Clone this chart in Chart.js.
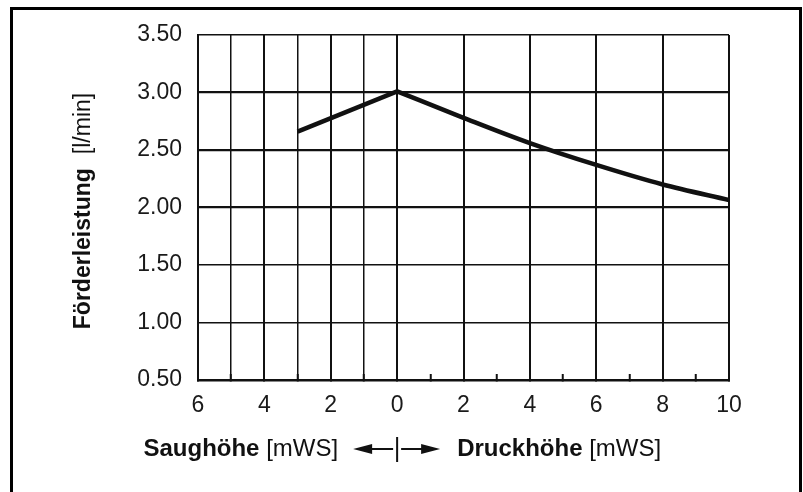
<!DOCTYPE html>
<html>
<head>
<meta charset="utf-8">
<script src="https://cdn.jsdelivr.net/npm/chart.js@4.4.1/dist/chart.umd.min.js"></script>
<style>
  html, body { margin: 0; padding: 0; background: #fff; }
  body { width: 803px; height: 492px; position: relative; overflow: hidden; }
  #chart { position: absolute; left: 0; top: 0; }
  #frame {
    position: absolute; left: 10px; top: 7px; width: 792px; height: 500px;
    box-sizing: border-box; border: 3px solid #000; border-bottom: none;
    pointer-events: none;
  }
</style>
</head>
<body>
<canvas id="chart" width="803" height="492"></canvas>
<div id="frame"></div>
<script>
// Saughöhe (suction head, negative side) and Druckhöhe (pressure head)
const suctionHeads = [-3, 0];
const suctionFlow = [2.66, 3.01];
const pressureHeads = [0, 2, 4, 6, 8, 10];
const pressureFlow = [3.01, 2.78, 2.56, 2.37, 2.20, 2.065];

const yTicks = [0.5, 1.0, 1.5, 2.0, 2.5, 3.0, 3.5];
const FONT = '"Liberation Sans", Arial, sans-serif';

const toPoints = (xs, ys) => xs.map((x, i) => ({ x: x, y: ys[i] }));

// axis titles with mixed bold / regular text, plus the ←|→ marker
const axisTitles = {
  id: 'axisTitles',
  afterDraw(chart) {
    const ctx = chart.ctx;
    const area = chart.chartArea;
    const xs = chart.scales.x;
    ctx.save();
    ctx.fillStyle = '#111';
    ctx.textBaseline = 'middle';

    // y title
    let bold = 'bold 23px ' + FONT;
    let reg = '23px ' + FONT;
    ctx.font = bold;
    const w1 = ctx.measureText('Förderleistung').width;
    ctx.font = reg;
    const w2 = ctx.measureText('[l/min]').width;
    const gap = 14;
    const total = w1 + gap + w2;
    ctx.translate(84, 211);
    ctx.rotate(-Math.PI / 2);
    ctx.textAlign = 'left';
    ctx.font = bold;
    ctx.fillText('Förderleistung', -total / 2, 0);
    ctx.font = reg;
    ctx.fillText('[l/min]', -total / 2 + w1 + gap, 0);
    ctx.setTransform(1, 0, 0, 1, 0, 0);

    // x title
    bold = 'bold 24px ' + FONT;
    reg = '24px ' + FONT;
    const zx = xs.getPixelForValue(0);
    const ty = 449;
    ctx.font = reg;
    const m1 = ctx.measureText(' [mWS]').width;
    ctx.textAlign = 'right';
    ctx.fillText(' [mWS]', zx - 59, ty);
    ctx.font = bold;
    ctx.fillText('Saughöhe', zx - 59 - m1, ty);
    ctx.textAlign = 'left';
    const m2 = ctx.measureText('Druckhöhe').width;
    ctx.fillText('Druckhöhe', zx + 60, ty);
    ctx.font = reg;
    ctx.fillText(' [mWS]', zx + 60 + m2, ty);

    // arrows
    ctx.strokeStyle = '#111';
    ctx.lineWidth = 2;
    ctx.beginPath();
    ctx.moveTo(zx, ty - 12); ctx.lineTo(zx, ty + 13);
    ctx.moveTo(zx - 4, ty); ctx.lineTo(zx - 28, ty);
    ctx.moveTo(zx + 4, ty); ctx.lineTo(zx + 28, ty);
    ctx.stroke();
    ctx.beginPath();
    ctx.moveTo(zx - 44, ty); ctx.lineTo(zx - 25, ty - 5); ctx.lineTo(zx - 25, ty + 5); ctx.closePath();
    ctx.moveTo(zx + 43, ty); ctx.lineTo(zx + 24, ty - 5); ctx.lineTo(zx + 24, ty + 5); ctx.closePath();
    ctx.fill();
    ctx.restore();
  }
};

new Chart(document.getElementById('chart'), {
  type: 'line',
  data: {
    datasets: [
      {
        data: toPoints(suctionHeads, suctionFlow),
        borderColor: '#111', borderWidth: 4.5, pointRadius: 0, tension: 0,
        borderCapStyle: 'butt', borderJoinStyle: 'miter'
      },
      {
        data: toPoints(pressureHeads, pressureFlow),
        borderColor: '#111', borderWidth: 4.5, pointRadius: 0,
        cubicInterpolationMode: 'monotone', borderCapStyle: 'butt'
      }
    ]
  },
  options: {
    responsive: false,
    animation: false,
    devicePixelRatio: 1,
    layout: { padding: { top: 35, right: 74, left: 0, bottom: 0 } },
    plugins: { legend: { display: false }, tooltip: { enabled: false } },
    scales: {
      x: {
        type: 'linear', min: -6, max: 10,
        afterFit: s => { s.height = 112; },
        border: { color: '#111', width: 2.5 },
        grid: {
          drawTicks: true, tickLength: -6,
          color: c => (c.tick && c.tick.value > 0 && c.tick.value % 2 !== 0) ? 'rgba(0,0,0,0)' : '#111',
          tickColor: '#111',
          lineWidth: c => (c.tick && c.tick.value % 2 === 0) ? 2 : 1.5,
          tickWidth: 2
        },
        ticks: {
          stepSize: 1, autoSkip: false, maxRotation: 0, padding: 18,
          color: '#1a1a1a', font: { family: FONT, size: 23 },
          callback: v => (v % 2 === 0 ? String(Math.abs(v)) : '')
        }
      },
      y: {
        min: 0.5, max: 3.5,
        afterFit: s => { s.width = 198; },
        afterBuildTicks: s => { s.ticks = yTicks.map(v => ({ value: v })); },
        border: { color: '#111', width: 2 },
        grid: {
          drawTicks: false, color: '#111',
          lineWidth: c => (c.tick && c.tick.value >= 2 && c.tick.value <= 3) ? 2.2 : 1.5
        },
        ticks: {
          padding: 16, color: '#1a1a1a', font: { family: FONT, size: 23 },
          callback: v => v.toFixed(2)
        }
      }
    }
  },
  plugins: [axisTitles]
});
</script>
</body>
</html>
